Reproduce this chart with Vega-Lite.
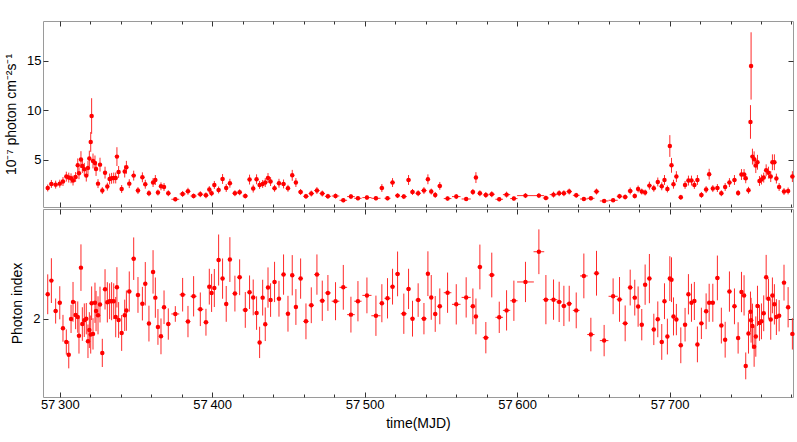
{
  "$schema": "https://vega.github.io/schema/vega-lite/v6.json",
  "padding": {"left": 4, "top": 20, "right": 2, "bottom": 4},
  "spacing": 0,
  "config": {
    "view": {"stroke": "#9a9a9a", "strokeWidth": 1},
    "font": "Liberation Sans",
    "axis": {"domain": false, "grid": false, "tickColor": "#333333", "tickWidth": 1, "labelFont": "Liberation Sans", "labelFontSize": 13, "labelColor": "#000000", "titleFont": "Liberation Sans", "titleFontSize": 14, "titleFontWeight": "normal", "titleColor": "#000000", "labelFlush": false}
  },
  "data": {"values": [
    {"t":57292.1,"te":1.2,"f":2.17,"fe":0.35,"g":2.109,"ge":0.089},
    {"t":57294.5,"te":1.2,"f":2.58,"fe":0.4,"g":2.170,"ge":0.10},
    {"t":57297.3,"te":1.4,"f":2.51,"fe":0.4,"g":2.034,"ge":0.056},
    {"t":57300.0,"te":1.2,"f":2.61,"fe":0.4,"g":2.071,"ge":0.074},
    {"t":57302.1,"te":1.0,"f":2.82,"fe":0.45,"g":1.957,"ge":0.06},
    {"t":57304.3,"te":1.0,"f":3.32,"fe":0.5,"g":1.896,"ge":0.056},
    {"t":57305.9,"te":0.8,"f":3.22,"fe":0.5,"g":1.839,"ge":0.061},
    {"t":57307.4,"te":0.8,"f":3.15,"fe":0.5,"g":1.999,"ge":0.063},
    {"t":57308.7,"te":0.7,"f":2.92,"fe":0.5,"g":2.075,"ge":0.089},
    {"t":57310.4,"te":0.8,"f":3.28,"fe":0.5,"g":2.016,"ge":0.063},
    {"t":57311.8,"te":0.7,"f":4.46,"fe":0.7,"g":2.007,"ge":0.07},
    {"t":57312.6,"te":0.5,"f":3.66,"fe":0.6,"g":1.924,"ge":0.08},
    {"t":57313.9,"te":0.6,"f":5.04,"fe":0.85,"g":2.228,"ge":0.104},
    {"t":57314.8,"te":0.5,"f":4.39,"fe":0.7,"g":1.976,"ge":0.075},
    {"t":57316.1,"te":0.6,"f":4.06,"fe":0.65,"g":1.993,"ge":0.075},
    {"t":57317.4,"te":0.6,"f":3.42,"fe":0.6,"g":2.000,"ge":0.07},
    {"t":57318.5,"te":0.5,"f":4.19,"fe":0.7,"g":1.899,"ge":0.075},
    {"t":57319.4,"te":0.5,"f":5.14,"fe":0.8,"g":1.949,"ge":0.08},
    {"t":57320.3,"te":0.4,"f":6.82,"fe":1.0,"g":1.929,"ge":0.085},
    {"t":57320.9,"te":0.3,"f":9.44,"fe":1.8,"g":2.069,"ge":0.075},
    {"t":57321.8,"te":0.5,"f":4.90,"fe":0.75,"g":1.932,"ge":0.07},
    {"t":57323.1,"te":0.6,"f":4.70,"fe":0.75,"g":2.071,"ge":0.09},
    {"t":57323.8,"te":0.4,"f":4.09,"fe":0.7,"g":2.034,"ge":0.09},
    {"t":57325.1,"te":0.6,"f":2.61,"fe":0.45,"g":2.015,"ge":0.085},
    {"t":57326.4,"te":0.6,"f":4.53,"fe":0.7,"g":2.063,"ge":0.08},
    {"t":57327.9,"te":0.8,"f":1.91,"fe":0.35,"g":1.847,"ge":0.063},
    {"t":57329.7,"te":0.9,"f":3.72,"fe":0.6,"g":2.131,"ge":0.09},
    {"t":57331.2,"te":0.8,"f":2.31,"fe":0.4,"g":2.073,"ge":0.09},
    {"t":57332.7,"te":0.7,"f":3.08,"fe":0.55,"g":2.078,"ge":0.08},
    {"t":57334.0,"te":0.7,"f":3.15,"fe":0.55,"g":2.078,"ge":0.085},
    {"t":57335.4,"te":0.7,"f":3.18,"fe":0.55,"g":2.078,"ge":0.08},
    {"t":57336.7,"te":0.5,"f":3.18,"fe":0.55,"g":2.007,"ge":0.09},
    {"t":57337.5,"te":0.5,"f":5.34,"fe":0.95,"g":2.140,"ge":0.09},
    {"t":57338.6,"te":0.7,"f":3.79,"fe":0.6,"g":1.994,"ge":0.08},
    {"t":57340.6,"te":1.0,"f":2.07,"fe":0.4,"g":1.936,"ge":0.08},
    {"t":57342.6,"te":0.8,"f":3.83,"fe":0.6,"g":2.015,"ge":0.07},
    {"t":57343.7,"te":0.6,"f":4.26,"fe":0.65,"g":2.036,"ge":0.09},
    {"t":57345.6,"te":1.2,"f":2.61,"fe":0.45,"g":2.121,"ge":0.09},
    {"t":57348.5,"te":1.4,"f":3.42,"fe":0.5,"g":2.268,"ge":0.095},
    {"t":57351.3,"te":1.4,"f":1.91,"fe":0.35,"g":2.106,"ge":0.08},
    {"t":57354.2,"te":1.2,"f":3.25,"fe":0.5,"g":2.067,"ge":0.075},
    {"t":57356.1,"te":1.2,"f":2.55,"fe":0.45,"g":2.156,"ge":0.097},
    {"t":57358.5,"te":1.2,"f":1.64,"fe":0.3,"g":1.978,"ge":0.08},
    {"t":57361.2,"te":1.2,"f":2.72,"fe":0.45,"g":2.209,"ge":0.097},
    {"t":57362.7,"te":0.8,"f":2.98,"fe":0.5,"g":2.094,"ge":0.09},
    {"t":57364.4,"te":1.0,"f":1.71,"fe":0.3,"g":1.963,"ge":0.08},
    {"t":57366.4,"te":1.0,"f":2.34,"fe":0.4,"g":1.921,"ge":0.08},
    {"t":57368.4,"te":1.0,"f":2.27,"fe":0.4,"g":2.051,"ge":0.075},
    {"t":57371.2,"te":1.5,"f":1.64,"fe":0.3,"g":1.976,"ge":0.07},
    {"t":57375.8,"te":2.6,"f":1.03,"fe":0.2,"g":2.021,"ge":0.035},
    {"t":57380.6,"te":2.0,"f":1.57,"fe":0.3,"g":2.107,"ge":0.075},
    {"t":57384.1,"te":1.6,"f":1.84,"fe":0.35,"g":1.987,"ge":0.07},
    {"t":57387.8,"te":2.0,"f":1.36,"fe":0.25,"g":2.100,"ge":0.09},
    {"t":57392.2,"te":2.0,"f":1.54,"fe":0.3,"g":2.042,"ge":0.075},
    {"t":57395.9,"te":1.6,"f":1.43,"fe":0.3,"g":1.984,"ge":0.06},
    {"t":57398.1,"te":1.0,"f":2.01,"fe":0.35,"g":2.143,"ge":0.08},
    {"t":57399.6,"te":0.8,"f":1.64,"fe":0.3,"g":2.115,"ge":0.085},
    {"t":57401.4,"te":1.0,"f":2.48,"fe":0.4,"g":2.137,"ge":0.085},
    {"t":57404.2,"te":1.2,"f":1.97,"fe":0.35,"g":2.262,"ge":0.114},
    {"t":57406.8,"te":1.2,"f":3.08,"fe":0.5,"g":2.179,"ge":0.09},
    {"t":57409.2,"te":1.2,"f":2.17,"fe":0.4,"g":2.066,"ge":0.08},
    {"t":57411.6,"te":1.2,"f":2.65,"fe":0.45,"g":2.264,"ge":0.10},
    {"t":57414.9,"te":1.6,"f":1.64,"fe":0.3,"g":2.112,"ge":0.08},
    {"t":57418.0,"te":1.6,"f":1.74,"fe":0.3,"g":2.185,"ge":0.08},
    {"t":57421.7,"te":1.8,"f":1.36,"fe":0.25,"g":2.039,"ge":0.08},
    {"t":57424.5,"te":1.2,"f":3.02,"fe":0.5,"g":2.118,"ge":0.075},
    {"t":57426.9,"te":1.2,"f":2.11,"fe":0.4,"g":2.095,"ge":0.08},
    {"t":57429.1,"te":1.0,"f":3.05,"fe":0.5,"g":2.025,"ge":0.075},
    {"t":57431.1,"te":1.0,"f":2.48,"fe":0.4,"g":1.894,"ge":0.07},
    {"t":57433.1,"te":0.9,"f":2.58,"fe":0.4,"g":2.094,"ge":0.08},
    {"t":57434.8,"te":0.9,"f":2.72,"fe":0.45,"g":1.975,"ge":0.075},
    {"t":57436.6,"te":0.9,"f":3.18,"fe":0.5,"g":2.139,"ge":0.09},
    {"t":57438.3,"te":1.0,"f":2.82,"fe":0.45,"g":2.083,"ge":0.075},
    {"t":57440.9,"te":1.3,"f":2.14,"fe":0.35,"g":2.164,"ge":0.09},
    {"t":57443.8,"te":1.4,"f":2.65,"fe":0.45,"g":2.089,"ge":0.08},
    {"t":57446.8,"te":1.4,"f":2.58,"fe":0.45,"g":2.197,"ge":0.09},
    {"t":57449.7,"te":1.4,"f":2.14,"fe":0.35,"g":2.022,"ge":0.08},
    {"t":57452.5,"te":1.2,"f":3.45,"fe":0.55,"g":2.194,"ge":0.09},
    {"t":57454.9,"te":1.2,"f":2.72,"fe":0.45,"g":2.052,"ge":0.08},
    {"t":57458.0,"te":1.6,"f":1.77,"fe":0.3,"g":2.179,"ge":0.09},
    {"t":57461.5,"te":1.8,"f":1.33,"fe":0.25,"g":1.988,"ge":0.08},
    {"t":57465.0,"te":1.8,"f":1.61,"fe":0.3,"g":2.060,"ge":0.08},
    {"t":57468.7,"te":1.8,"f":1.91,"fe":0.35,"g":2.197,"ge":0.09},
    {"t":57472.2,"te":1.8,"f":1.61,"fe":0.3,"g":2.080,"ge":0.09},
    {"t":57475.9,"te":2.0,"f":1.33,"fe":0.25,"g":2.115,"ge":0.08},
    {"t":57480.9,"te":2.5,"f":1.36,"fe":0.25,"g":2.078,"ge":0.085},
    {"t":57486.0,"te":2.5,"f":0.93,"fe":0.2,"g":2.140,"ge":0.10},
    {"t":57491.0,"te":2.5,"f":1.30,"fe":0.25,"g":2.018,"ge":0.08},
    {"t":57495.6,"te":2.4,"f":1.13,"fe":0.2,"g":2.078,"ge":0.09},
    {"t":57501.5,"te":3.0,"f":1.20,"fe":0.22,"g":2.104,"ge":0.08},
    {"t":57507.4,"te":3.0,"f":1.13,"fe":0.2,"g":2.013,"ge":0.09},
    {"t":57511.3,"te":1.5,"f":2.17,"fe":0.4,"g":2.069,"ge":0.085},
    {"t":57515.0,"te":2.0,"f":1.13,"fe":0.2,"g":2.091,"ge":0.09},
    {"t":57518.3,"te":1.5,"f":2.72,"fe":0.45,"g":2.143,"ge":0.08},
    {"t":57521.6,"te":1.6,"f":1.40,"fe":0.25,"g":2.200,"ge":0.10},
    {"t":57525.7,"te":2.0,"f":1.30,"fe":0.25,"g":2.022,"ge":0.09},
    {"t":57528.8,"te":1.4,"f":2.98,"fe":0.5,"g":2.133,"ge":0.09},
    {"t":57531.4,"te":1.4,"f":1.77,"fe":0.3,"g":2.000,"ge":0.08},
    {"t":57535.1,"te":1.8,"f":1.64,"fe":0.3,"g":2.083,"ge":0.075},
    {"t":57538.9,"te":1.8,"f":1.91,"fe":0.35,"g":2.000,"ge":0.07},
    {"t":57541.5,"te":1.2,"f":3.05,"fe":0.5,"g":2.201,"ge":0.10},
    {"t":57543.7,"te":1.1,"f":1.81,"fe":0.3,"g":2.095,"ge":0.10},
    {"t":57546.3,"te":1.3,"f":1.47,"fe":0.3,"g":2.021,"ge":0.08},
    {"t":57549.3,"te":1.5,"f":2.38,"fe":0.4,"g":2.055,"ge":0.08},
    {"t":57554.4,"te":2.5,"f":1.10,"fe":0.2,"g":2.116,"ge":0.09},
    {"t":57560.1,"te":2.8,"f":1.30,"fe":0.25,"g":2.064,"ge":0.09},
    {"t":57566.6,"te":3.0,"f":1.06,"fe":0.2,"g":2.095,"ge":0.09},
    {"t":57571.0,"te":1.5,"f":1.77,"fe":0.3,"g":2.055,"ge":0.08},
    {"t":57573.0,"te":0.8,"f":3.22,"fe":0.55,"g":2.010,"ge":0.08},
    {"t":57575.6,"te":1.5,"f":1.64,"fe":0.3,"g":2.231,"ge":0.10},
    {"t":57579.5,"te":2.0,"f":1.47,"fe":0.3,"g":1.915,"ge":0.07},
    {"t":57583.4,"te":2.0,"f":1.54,"fe":0.3,"g":2.195,"ge":0.10},
    {"t":57588.3,"te":2.5,"f":1.03,"fe":0.2,"g":2.006,"ge":0.07},
    {"t":57593.1,"te":2.4,"f":1.50,"fe":0.3,"g":2.037,"ge":0.09},
    {"t":57597.9,"te":2.4,"f":1.10,"fe":0.2,"g":2.080,"ge":0.09},
    {"t":57605.5,"te":5.5,"f":1.40,"fe":0.25,"g":2.164,"ge":0.09},
    {"t":57614.3,"te":3.5,"f":1.40,"fe":0.25,"g":2.299,"ge":0.10},
    {"t":57618.9,"te":2.0,"f":1.16,"fe":0.22,"g":2.085,"ge":0.11},
    {"t":57623.9,"te":2.5,"f":1.50,"fe":0.3,"g":2.085,"ge":0.09},
    {"t":57627.6,"te":1.8,"f":1.64,"fe":0.3,"g":2.075,"ge":0.09},
    {"t":57630.7,"te":1.6,"f":1.64,"fe":0.3,"g":2.057,"ge":0.09},
    {"t":57634.2,"te":1.8,"f":1.81,"fe":0.3,"g":2.067,"ge":0.08},
    {"t":57638.8,"te":2.2,"f":1.43,"fe":0.25,"g":2.037,"ge":0.08},
    {"t":57643.8,"te":2.5,"f":1.06,"fe":0.2,"g":2.191,"ge":0.10},
    {"t":57648.4,"te":2.4,"f":1.13,"fe":0.2,"g":1.929,"ge":0.075},
    {"t":57652.1,"te":1.8,"f":1.81,"fe":0.3,"g":2.203,"ge":0.10},
    {"t":57657.1,"te":2.8,"f":0.86,"fe":0.18,"g":1.902,"ge":0.07},
    {"t":57663.0,"te":3.0,"f":0.93,"fe":0.18,"g":2.100,"ge":0.08},
    {"t":57667.2,"te":1.8,"f":1.33,"fe":0.25,"g":2.086,"ge":0.10},
    {"t":57670.9,"te":1.8,"f":1.26,"fe":0.25,"g":1.979,"ge":0.08},
    {"t":57674.2,"te":1.6,"f":1.87,"fe":0.35,"g":2.139,"ge":0.08},
    {"t":57677.2,"te":1.4,"f":1.36,"fe":0.25,"g":2.094,"ge":0.08},
    {"t":57679.4,"te":1.1,"f":2.07,"fe":0.35,"g":2.054,"ge":0.09},
    {"t":57681.8,"te":1.2,"f":1.81,"fe":0.3,"g":1.973,"ge":0.07},
    {"t":57684.0,"te":1.2,"f":1.71,"fe":0.3,"g":2.152,"ge":0.09},
    {"t":57686.8,"te":1.4,"f":2.41,"fe":0.4,"g":2.179,"ge":0.11},
    {"t":57689.7,"te":1.4,"f":2.14,"fe":0.35,"g":1.952,"ge":0.07},
    {"t":57692.3,"te":1.2,"f":2.78,"fe":0.45,"g":1.997,"ge":0.08},
    {"t":57694.9,"te":1.2,"f":2.34,"fe":0.4,"g":1.896,"ge":0.08},
    {"t":57696.7,"te":0.9,"f":2.98,"fe":0.5,"g":2.078,"ge":0.08},
    {"t":57698.6,"te":0.9,"f":2.07,"fe":0.35,"g":1.920,"ge":0.08},
    {"t":57700.2,"te":0.6,"f":6.41,"fe":1.1,"g":2.179,"ge":0.10},
    {"t":57701.3,"te":0.6,"f":4.46,"fe":0.75,"g":2.174,"ge":0.10},
    {"t":57702.6,"te":0.8,"f":2.55,"fe":0.45,"g":2.010,"ge":0.085},
    {"t":57704.5,"te":1.0,"f":3.32,"fe":0.55,"g":1.996,"ge":0.07},
    {"t":57707.4,"te":1.4,"f":1.23,"fe":0.25,"g":1.881,"ge":0.08},
    {"t":57710.2,"te":1.2,"f":2.48,"fe":0.4,"g":1.973,"ge":0.075},
    {"t":57712.4,"te":1.0,"f":2.92,"fe":0.5,"g":2.109,"ge":0.09},
    {"t":57714.4,"te":1.0,"f":2.92,"fe":0.5,"g":2.071,"ge":0.085},
    {"t":57716.3,"te":1.0,"f":2.48,"fe":0.4,"g":2.079,"ge":0.085},
    {"t":57718.3,"te":1.0,"f":2.98,"fe":0.5,"g":1.885,"ge":0.08},
    {"t":57720.9,"te":1.4,"f":1.47,"fe":0.3,"g":1.979,"ge":0.07},
    {"t":57724.0,"te":1.4,"f":2.01,"fe":0.35,"g":2.033,"ge":0.08},
    {"t":57726.0,"te":1.0,"f":3.56,"fe":0.55,"g":2.071,"ge":0.085},
    {"t":57728.4,"te":1.2,"f":2.11,"fe":0.35,"g":2.071,"ge":0.085},
    {"t":57731.4,"te":1.4,"f":2.17,"fe":0.4,"g":2.182,"ge":0.10},
    {"t":57734.0,"te":1.2,"f":1.64,"fe":0.3,"g":1.969,"ge":0.08},
    {"t":57736.5,"te":1.2,"f":2.27,"fe":0.4,"g":1.906,"ge":0.08},
    {"t":57739.3,"te":1.4,"f":2.72,"fe":0.45,"g":2.121,"ge":0.09},
    {"t":57742.6,"te":1.4,"f":2.98,"fe":0.5,"g":2.055,"ge":0.08},
    {"t":57745.0,"te":1.0,"f":1.67,"fe":0.3,"g":1.914,"ge":0.07},
    {"t":57747.2,"te":1.0,"f":3.53,"fe":0.55,"g":2.119,"ge":0.09},
    {"t":57748.9,"te":0.8,"f":3.53,"fe":0.55,"g":2.104,"ge":0.09},
    {"t":57750.0,"te":0.6,"f":3.15,"fe":0.5,"g":1.789,"ge":0.06},
    {"t":57751.8,"te":0.8,"f":1.94,"fe":0.35,"g":1.934,"ge":0.09},
    {"t":57753.1,"te":0.4,"f":8.84,"fe":1.7,"g":2.031,"ge":0.09},
    {"t":57753.5,"te":0.3,"f":14.5,"fe":3.4,"g":1.993,"ge":0.10},
    {"t":57754.4,"te":0.5,"f":5.34,"fe":0.8,"g":1.967,"ge":0.10},
    {"t":57755.5,"te":0.5,"f":5.07,"fe":0.8,"g":1.875,"ge":0.09},
    {"t":57756.6,"te":0.5,"f":4.43,"fe":0.75,"g":1.920,"ge":0.09},
    {"t":57757.7,"te":0.5,"f":4.77,"fe":0.75,"g":2.057,"ge":0.09},
    {"t":57759.0,"te":0.6,"f":2.88,"fe":0.5,"g":1.981,"ge":0.08},
    {"t":57760.3,"te":0.6,"f":3.02,"fe":0.5,"g":1.988,"ge":0.08},
    {"t":57761.8,"te":0.7,"f":3.22,"fe":0.5,"g":2.024,"ge":0.08},
    {"t":57763.4,"te":0.7,"f":3.96,"fe":0.6,"g":2.185,"ge":0.10},
    {"t":57764.9,"te":0.7,"f":3.72,"fe":0.6,"g":2.089,"ge":0.09},
    {"t":57766.4,"te":0.6,"f":3.32,"fe":0.55,"g":1.996,"ge":0.09},
    {"t":57767.5,"te":0.5,"f":4.77,"fe":0.8,"g":2.104,"ge":0.08},
    {"t":57768.8,"te":0.6,"f":4.77,"fe":0.8,"g":2.064,"ge":0.09},
    {"t":57770.1,"te":0.6,"f":3.12,"fe":0.5,"g":2.007,"ge":0.08},
    {"t":57771.9,"te":1.0,"f":2.27,"fe":0.4,"g":2.013,"ge":0.07},
    {"t":57775.1,"te":1.4,"f":1.81,"fe":0.35,"g":2.161,"ge":0.08},
    {"t":57777.8,"te":1.2,"f":1.87,"fe":0.35,"g":2.051,"ge":0.09},
    {"t":57780.6,"te":1.2,"f":3.32,"fe":0.55,"g":1.932,"ge":0.07}
  ]},
  "vconcat": [
    {
      "width": 750, "height": 186,
      "layer": [
        {
          "mark": {"type": "errorbar", "color": "#ff2a2a", "thickness": 1},
          "encoding": {
            "x": {"field": "t", "type": "quantitative", "scale": {"domain": [57289, 57781], "nice": false, "zero": false},
              "axis": {"orient": "bottom", "title": null, "labels": false, "values": [57300,57320,57340,57360,57380,57400,57420,57440,57460,57480,57500,57520,57540,57560,57580,57600,57620,57640,57660,57680,57700,57720,57740,57760,57780], "tickSize": {"condition": {"test": "datum.value % 100 === 0", "value": -5}, "value": -3}}},
            "y": {"field": "f", "type": "quantitative", "scale": {"domain": [0.25, 19.04], "nice": false, "zero": false},
              "axis": {"orient": "left", "title": "10⁻⁷ photon cm⁻²s⁻¹", "titlePadding": 8, "values": [5, 10, 15], "tickSize": -5, "labelPadding": 7}},
            "yError": {"field": "fe"}
          }
        },
        {
          "mark": {"type": "errorbar", "color": "#ff2a2a", "thickness": 1},
          "encoding": {
            "x": {"field": "t", "type": "quantitative", "scale": {"domain": [57289, 57781], "nice": false, "zero": false},
              "axis": {"orient": "top", "title": null, "labels": false, "values": [57300,57320,57340,57360,57380,57400,57420,57440,57460,57480,57500,57520,57540,57560,57580,57600,57620,57640,57660,57680,57700,57720,57740,57760,57780], "tickSize": {"condition": {"test": "datum.value % 100 === 0", "value": -5}, "value": -3}}},
            "xError": {"field": "te"},
            "y": {"field": "f", "type": "quantitative", "scale": {"domain": [0.25, 19.04], "nice": false, "zero": false},
              "axis": {"orient": "right", "title": null, "labels": false, "values": [5, 10, 15], "tickSize": -5}}
          }
        },
        {
          "mark": {"type": "point", "filled": true, "shape": "circle", "color": "#ff0000", "opacity": 1, "size": 20},
          "encoding": {
            "x": {"field": "t", "type": "quantitative", "scale": {"domain": [57289, 57781], "nice": false, "zero": false}, "axis": null},
            "y": {"field": "f", "type": "quantitative", "scale": {"domain": [0.25, 19.04], "nice": false, "zero": false}, "axis": null}
          }
        }
      ],
      "resolve": {"axis": {"x": "independent", "y": "independent"}}
    },
    {
      "width": 750, "height": 188,
      "layer": [
        {
          "mark": {"type": "errorbar", "color": "#ff2a2a", "thickness": 1},
          "encoding": {
            "x": {"field": "t", "type": "quantitative", "scale": {"domain": [57289, 57781], "nice": false, "zero": false},
              "axis": {"orient": "bottom", "title": "time(MJD)", "titlePadding": 5, "labelPadding": 6, "values": [57300,57320,57340,57360,57380,57400,57420,57440,57460,57480,57500,57520,57540,57560,57580,57600,57620,57640,57660,57680,57700,57720,57740,57760,57780], "labelExpr": "datum.value % 100 === 0 ? replace(format(datum.value, ','), ',', '\u2009') : ''", "tickSize": {"condition": {"test": "datum.value % 100 === 0", "value": -5}, "value": -3}}},
            "y": {"field": "g", "type": "quantitative", "scale": {"domain": [1.65, 2.49], "nice": false, "zero": false},
              "axis": {"orient": "left", "title": "Photon index", "titlePadding": 8, "values": [2], "tickSize": -5, "labelPadding": 8}},
            "yError": {"field": "ge"}
          }
        },
        {
          "mark": {"type": "errorbar", "color": "#ff2a2a", "thickness": 1},
          "encoding": {
            "x": {"field": "t", "type": "quantitative", "scale": {"domain": [57289, 57781], "nice": false, "zero": false},
              "axis": {"orient": "top", "title": null, "labels": false, "values": [57300,57320,57340,57360,57380,57400,57420,57440,57460,57480,57500,57520,57540,57560,57580,57600,57620,57640,57660,57680,57700,57720,57740,57760,57780], "tickSize": {"condition": {"test": "datum.value % 100 === 0", "value": -5}, "value": -3}}},
            "xError": {"field": "te"},
            "y": {"field": "g", "type": "quantitative", "scale": {"domain": [1.65, 2.49], "nice": false, "zero": false},
              "axis": {"orient": "right", "title": null, "labels": false, "values": [2], "tickSize": -5}}
          }
        },
        {
          "mark": {"type": "point", "filled": true, "shape": "circle", "color": "#ff0000", "opacity": 1, "size": 20},
          "encoding": {
            "x": {"field": "t", "type": "quantitative", "scale": {"domain": [57289, 57781], "nice": false, "zero": false}, "axis": null},
            "y": {"field": "g", "type": "quantitative", "scale": {"domain": [1.65, 2.49], "nice": false, "zero": false}, "axis": null}
          }
        }
      ],
      "resolve": {"axis": {"x": "independent", "y": "independent"}}
    }
  ]
}
